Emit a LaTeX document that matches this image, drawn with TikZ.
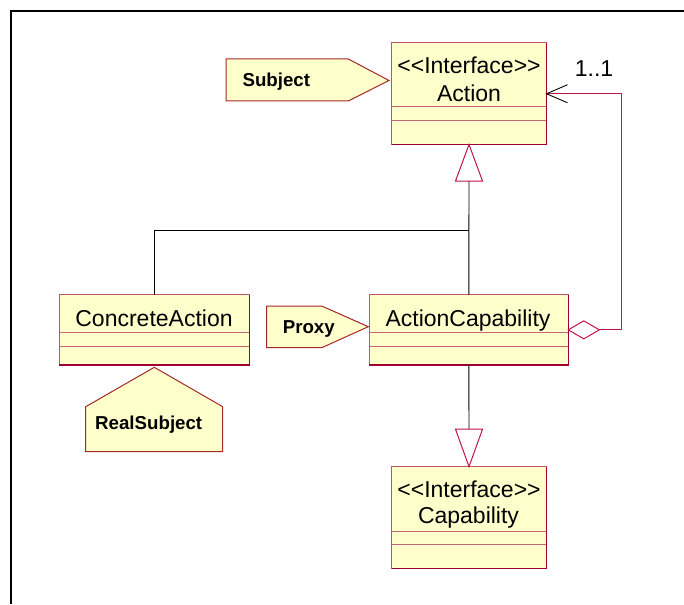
\documentclass[tikz,border=0pt]{standalone}
\usepackage{fontspec}
\setmainfont[Ligatures=NoCommon]{Liberation Sans}
\definecolor{clsfill}{RGB}{255,255,204}
\definecolor{clsline}{RGB}{196,80,105}
\definecolor{clsdark}{RGB}{160,0,48}
\definecolor{divcol}{RGB}{200,100,120}
\definecolor{noteline}{RGB}{165,40,40}
\definecolor{umlred}{RGB}{190,20,70}
\newcommand{\stereo}[1]{<{}<#1>{}>}
\begin{document}
\begin{tikzpicture}[x=1pt,y=-1pt,
  clsbox/.style={draw=clsline, fill=clsfill, line width=1pt, inner sep=0pt, outer sep=0pt, rectangle},
  clsedge/.style={draw=clsdark, line width=1.5pt},
  divider/.style={draw=divcol, line width=1pt},
  clstext/.style={font=\fontsize{23}{27}\selectfont, anchor=base, inner sep=0pt},
  notetext/.style={font=\fontsize{18.7}{22}\selectfont\bfseries, anchor=base, inner sep=0pt},
  noteshape/.style={draw=noteline, fill=clsfill, line width=1pt},
  genline/.style={draw=black, line width=0.9pt},
  gentri/.style={draw=umlred, fill=white, line width=1pt},
  assoc/.style={draw=umlred, line width=1pt},
  arrline/.style={draw=black, line width=0.9pt},
  frame/.style={draw=black, line width=2pt}]
\useasboundingbox (0,0) rectangle (684,604);
\draw[frame] (684,11) -- (11,11) -- (11,604);

% class boxes
\node[clsbox, minimum width=155pt, minimum height=101.5pt, anchor=north west] (action) at (391.5,43) {};
\node[clsbox, minimum width=155pt, minimum height=101.6pt, anchor=north west] (capability) at (391.5,466.7) {};
\node[clsbox, minimum width=190pt, minimum height=70.3pt, anchor=north west] (concrete) at (59.3,294.7) {};
\node[clsbox, minimum width=199pt, minimum height=70.3pt, anchor=north west] (actcap) at (369.3,294.7) {};

\foreach \n/\a/\b in {action/64/78, capability/64.3/77.6, concrete/38/51.3, actcap/38/51.3}{
  \draw[divider] ([yshift=-\a pt]\n.north west) -- ([yshift=-\a pt]\n.north east);
  \draw[divider] ([yshift=-\b pt]\n.north west) -- ([yshift=-\b pt]\n.north east);
  \draw[clsedge] (\n.north east) -- (\n.south east) -- (\n.south west);
}

% class texts
\node[clstext] (actionst) at (469,74) {\stereo{Interface}};
\node[clstext] (actionnm) at (469,101.7) {Action};
\node[clstext] (capst) at (469,497.3) {\stereo{Interface}};
\node[clstext] (capnm) at (468.5,523.3) {Capability};
\node[clstext] (concretenm) at (154,326.7) {ConcreteAction};
\node[clstext] (actcapnm) at (468,326.7) {ActionCapability};

% notes (pattern roles)
\draw[noteshape] (226,59) -- (348.3,59) -- (389,80.5) -- (348.3,101) -- (226,101) -- cycle;
\node[notetext] (subject) at (276.3,86.7) {Subject};
\draw[noteshape] (266.7,306) -- (321.7,306) -- (368.3,326.7) -- (321.7,347.7) -- (266.7,347.7) -- cycle;
\node[notetext] (proxy) at (308.8,333.3) {Proxy};
\draw[noteshape] (154.3,367.3) -- (222.7,406.7) -- (222.7,451.7) -- (85.7,451.7) -- (85.7,406.7) -- cycle;
\node[notetext] (realsubject) at (148.7,429) {RealSubject};

% generalization to Action
\coordinate (tri1) at ([yshift=-36.5pt]action.south);
\coordinate (joint) at (tri1 |- 0,230.3);
\draw[genline] (concrete.north) |- (joint);
\draw[genline] (actcap.north) -- (tri1);
\draw[gentri] (action.south) -- ([xshift=13.5pt]tri1) -- ([xshift=-13.5pt]tri1) -- cycle;

% realization to Capability
\coordinate (tri2) at ([yshift=37.5pt]capability.north);
\draw[genline] (actcap.south) -- (tri2);
\draw[gentri] (capability.north) -- ([xshift=13.5pt]tri2) -- ([xshift=-13.5pt]tri2) -- cycle;

% aggregation ActionCapability -> Action
\coordinate (dtip) at ([xshift=31pt]actcap.east);
\coordinate (rx) at (621.7,0);
\coordinate (rb) at (dtip -| rx);
\coordinate (rt) at (action.east -| rx);
\draw[assoc] (dtip) -- (rb) -- (rt) -- (action.east);
\draw[assoc, fill=white] (actcap.east) -- ++(15.5,-9) -- (dtip) -- ++(-15.5,9) -- cycle;
\draw[arrline] ([shift={(21,-9)}]action.east) -- (action.east) -- ([shift={(21,9)}]action.east);
\node[clstext] (mult) at (594,76.7) {1..1};
\end{tikzpicture}
\end{document}
